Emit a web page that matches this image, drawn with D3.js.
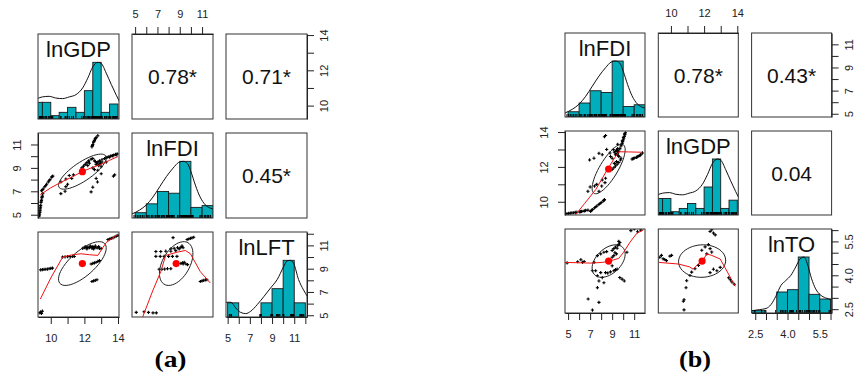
<!DOCTYPE html>
<html>
<head>
<meta charset="utf-8">
<script src="https://cdn.jsdelivr.net/npm/d3@7"></script>
<style>
  body { margin: 0; background: #fff; }
  svg { display: block; font-family: "Liberation Sans", Arial, sans-serif; }
</style>
</head>
<body>
<svg id="chart" width="854" height="378"></svg>
<script>
// ---- values ----
const varNames = ["lnGDP", "lnFDI", "lnLFT", "lnTO"];
const varDomains = [[9.24, 14.06], [4.72, 11.98], [4.85, 12.15], [2.33, 6.05]];
const varMeans = [11.88, 8.68, 9.44, 4.63];
const varSds = [1.42, 1.5, 1.88, 0.72];

// axis ticks (every tick drawn, only some labelled)
const gdpTicks = [10, 11, 12, 13, 14];
const gdpTickLabels = [10, 12, 14];
const fdiTicks = [5, 6, 7, 8, 9, 10, 11];
const fdiTickLabels = [5, 7, 9, 11];
const lftTicks = [5, 6, 7, 8, 9, 10, 11, 12];
const lftTickLabels = [5, 7, 9, 11];
const toTicks = [2.5, 3, 3.5, 4, 4.5, 5, 5.5, 6];
const toTickLabels = [2.5, 4, 5.5];

// histograms
const gdpBreaks = [9.0, 9.5, 10, 10.5, 11, 11.5, 12, 12.5, 13, 13.5, 14];
const gdpCounts = [10, 10, 2, 4, 7, 4, 17, 34, 4, 9];
const fdiBreaks = [5, 6, 7, 8, 9, 10, 11, 12];
const fdiCounts = [3, 8, 15, 14, 32, 6, 7];
const lftBreaks = [5, 6, 7, 8, 9, 10, 11, 12];
const lftCounts = [1, 0, 0, 1, 2, 4, 1];
const toBreaks = [2.0, 2.5, 3.0, 3.5, 4.0, 4.5, 5.0, 5.5, 6.0];
const toCounts = [1, 1, 0, 9, 10, 24, 8, 6];

// density curves (scaled to max 1)
const gdpDensity = [[9.2,0.36],[9.5,0.39],[9.9,0.40],[10.3,0.37],[10.7,0.36],[11.1,0.39],[11.5,0.43],[11.9,0.55],[12.2,0.72],[12.5,0.92],[12.8,1.0],[13.0,0.98],[13.3,0.81],[13.6,0.61],[13.9,0.42],[14.1,0.30]];
const fdiDensity = [[4.7,0.07],[5.4,0.14],[6.0,0.23],[6.6,0.37],[7.2,0.55],[7.8,0.73],[8.4,0.88],[8.9,0.98],[9.3,1.0],[9.7,0.96],[10.0,0.82],[10.4,0.58],[10.8,0.38],[11.3,0.23],[11.8,0.17],[12.1,0.15]];
const lftDensity = [[4.85,0.26],[5.29,0.26],[5.73,0.16],[6.18,0.08],[6.63,0.06],[7.07,0.1],[7.67,0.22],[8.26,0.36],[8.86,0.51],[9.46,0.66],[10.05,0.89],[10.35,0.99],[10.64,1.0],[10.94,0.95],[11.39,0.66],[11.83,0.48],[12.19,0.36]];
const toDensity = [[2.33,0.04],[2.69,0.06],[3.0,0.08],[3.23,0.15],[3.46,0.3],[3.69,0.49],[3.92,0.58],[4.15,0.67],[4.38,0.82],[4.57,0.96],[4.77,1.0],[4.92,0.88],[5.12,0.61],[5.31,0.43],[5.54,0.32],[5.77,0.27],[6.05,0.24]];

// scatter points
const gdpFdiPts = [
  [9.32,4.9],[9.35,5.2],[9.37,5.5],[9.4,5.8],[9.42,6.05],[9.45,6.25],[9.47,6.45],[9.5,6.6],[9.52,6.8],
  [9.33,5.05],[9.36,5.35],[9.39,5.65],[9.43,6.15],[9.48,6.5],
  [9.45,7.05],[9.55,7.2],[9.65,7.4],[9.75,7.6],[9.85,7.8],[9.95,8.0],[10.05,8.2],[10.12,8.3],
  [9.5,7.12],[9.7,7.5],[9.9,7.9],[10.08,8.25],
  [10.6,6.8],[10.6,7.8],[10.85,7.0],[10.9,8.05],[10.9,7.4],[11.0,7.6],[11.1,8.35],[11.25,8.1],[11.35,8.4],
  [12.4,6.95],[12.5,7.35],[12.78,7.8],[12.7,8.1],[13.73,8.3],[12.6,8.85],[12.5,9.0],
  [13.95,10.2],[13.85,10.15],[13.75,10.1],[13.65,10.05],[13.55,10.0],[13.45,9.95],[13.35,9.9],[13.2,9.8],[13.05,9.7],
  [13.9,10.12],[13.7,10.02],[13.5,9.92],[13.28,9.85],
  [12.9,9.6],[12.95,9.4],[12.8,9.5],[12.7,9.3],[12.85,9.2],[13.0,9.1],[12.6,9.6],[12.5,9.8],[12.3,9.4],[12.2,9.2],
  [12.75,9.45],[12.9,9.3],[12.65,9.55],[13.05,9.5],
  [11.85,9.0],[11.95,9.15],[12.05,9.3],[12.15,9.45],[12.25,9.6],[12.4,9.75],
  [12.45,10.8],[12.5,11.0],[12.55,11.2],[12.6,11.35],[12.65,11.5],[12.7,11.6],[12.8,11.75],
  [12.48,10.9],[12.58,11.28],[12.68,11.55],
  [13.8,8.4],[13.0,8.5],[12.8,8.8],[13.3,9.5]
];
const gdpLftPts = [
  [9.35,5.2],[9.4,5.3],[9.45,5.15],[9.5,5.35],
  [9.4,8.9],[9.5,8.92],[9.6,8.94],[9.7,8.95],[9.8,8.97],[9.9,9.0],[10.0,9.02],[10.1,9.05],
  [10.7,10.0],[10.85,10.02],[11.0,10.03],[11.15,10.04],[11.3,10.05],[11.4,10.05],
  [11.9,10.75],[12.0,10.8],[12.1,10.82],[12.2,10.85],[12.3,10.8],[12.4,10.88],[12.5,10.9],[12.6,10.85],[12.7,10.8],[12.8,10.78],[12.9,10.75],[13.0,10.72],[12.15,10.7],[12.45,10.75],
  [12.05,10.9],[12.35,10.95],[12.65,10.95],[12.55,10.7],[12.85,10.9],
  [12.4,9.4],[12.5,9.45],[12.6,9.5],[12.7,9.55],[12.8,9.62],[12.9,9.7],
  [12.45,7.9],[12.55,7.95],[12.65,8.0],[12.75,8.05],
  [13.4,11.5],[13.5,11.55],[13.6,11.6],[13.7,11.65],[13.8,11.72],[13.9,11.8],[14.0,11.86]
];
const fdiLftPts = [
  [5.1,5.25],[5.8,5.3],[6.2,5.25],[6.6,5.2],[6.9,5.2],
  [6.86,10.47],[7.3,10.47],[7.75,10.5],[8.2,10.5],[8.64,10.55],
  [6.86,10.06],[7.25,10.06],[7.6,10.06],[8.0,10.06],[8.35,10.06],[8.75,10.06],
  [7.15,8.95],[7.4,8.95],[7.65,8.97],[7.9,9.0],[8.2,9.0],
  [8.2,10.7],[8.5,10.75],[8.8,10.8],[9.1,10.85],[9.3,10.8],[8.95,10.7],[9.2,10.95],
  [9.1,9.45],[9.25,9.5],[9.4,9.55],[9.55,9.4],[9.7,9.35],[9.3,9.4],
  [9.66,11.5],[9.8,11.55],[9.95,11.6],[10.1,11.65],[10.25,11.7],[8.4,11.67],
  [10.84,7.9],[11.0,7.95],[11.15,8.0],[11.3,8.03],[11.43,8.05]
];
const fdiToPts = [
  [4.91,4.55],[5.87,4.6],[6.16,4.69],[6.31,4.57],[6.46,4.61],
  [7.21,4.2],[7.66,3.98],[7.8,3.75],[8.1,3.9],[8.25,3.67],[7.66,3.45],[6.82,2.95],[7.8,2.8],[7.21,2.46],
  [7.36,4.57],[7.66,4.87],[7.96,4.95],[8.25,5.02],[7.5,4.2],[7.96,4.12],[8.4,4.12],[8.85,4.15],[9.15,4.2],[9.45,4.27],[9.0,4.42],
  [8.6,4.1],[9.3,4.25],[8.5,5.05],
  [9.0,5.1],[9.15,5.18],[9.3,5.25],[9.6,5.36],[9.39,4.95],[9.5,5.33],[9.7,5.45],[9.15,4.87],[9.0,4.8],
  [9.45,5.2],[9.6,5.5],[9.25,5.0],
  [9.69,3.9],[9.9,3.83],[10.1,3.75],[10.34,5.02],
  [10.7,5.98],[11.0,6.05],[11.3,5.93],[11.6,6.0]
];
const gdpToPts = [
  [9.33,4.8],[9.43,4.88],[9.53,4.73],[9.63,4.7],[9.73,4.65],[9.94,4.85],[10.04,4.88],
  [12.36,5.94],[12.46,6.02],[12.56,5.87],[12.67,5.79],
  [11.86,5.11],[12.06,5.26],[12.26,5.36],[12.36,5.18],[12.46,5.03],[12.16,4.95],
  [12.36,4.12],[12.56,4.27],[12.77,4.2],[12.97,4.35],
  [13.48,3.89],[13.58,3.8],[13.68,3.7],[13.82,3.6],
  [11.15,3.99],[10.95,3.76],[10.91,3.45],[10.79,2.92],[10.75,2.85],[10.79,2.47],
  [11.25,4.14],[11.45,4.29],[11.66,4.44]
];

// lowess smooths (x, y)
const lowessGdpFdi = [[9.38,6.71],[10.0,7.3],[10.61,7.77],[11.3,8.25],[11.91,8.71],[12.5,9.05],[13.0,9.3],[13.5,9.65],[14.0,9.97]];
const lowessFdiGdp = [[5.56,9.16],[6.5,9.9],[7.5,10.69],[8.55,11.83],[9.3,12.59],[9.6,12.87],[10.5,12.86],[11.69,12.84]];
const lowessGdpLft = [[9.38,6.39],[10.0,8.2],[10.71,10.0],[11.3,10.2],[11.8,10.28],[12.3,10.2],[12.8,10.14],[13.3,11.25],[14.0,11.94]];
const lowessFdiLft = [[5.68,4.86],[6.57,7.08],[7.3,8.75],[7.74,10.14],[8.78,10.42],[9.51,10.56],[9.96,10.28],[10.84,8.75],[11.73,7.78]];
const lowessFdiTo = [[4.73,4.57],[7.06,4.54],[8.1,4.57],[8.7,4.62],[9.6,4.75],[10.04,5.02],[10.64,5.48],[11.24,5.86],[11.83,6.01]];
const lowessGdpTo = [[9.29,4.57],[10.44,4.5],[11.1,4.38],[11.34,4.27],[11.64,4.5],[11.86,4.57],[12.16,4.95],[12.46,4.88],[12.97,4.72],[13.37,4.19],[13.88,3.51]];

// correlations for pairs (0,1), (0,2), (1,2)
const corrA = [0.78, 0.71, 0.45];
const starsA = ["*", "*", "*"];
const corrB = [0.78, 0.43, 0.04];
const starsB = ["*", "*", ""];

// ---- build variable table ----
const fmtInt = d3.format("d"), fmt1 = d3.format(".1f");
const vars = {};
[
  [gdpTicks, gdpTickLabels, gdpBreaks, gdpCounts, gdpDensity, fmtInt],
  [fdiTicks, fdiTickLabels, fdiBreaks, fdiCounts, fdiDensity, fmtInt],
  [lftTicks, lftTickLabels, lftBreaks, lftCounts, lftDensity, fmtInt],
  [toTicks, toTickLabels, toBreaks, toCounts, toDensity, fmt1]
].forEach((a, k) => {
  vars[varNames[k]] = { name: varNames[k], domain: varDomains[k], mean: varMeans[k], sd: varSds[k],
    ticks: a[0], shown: a[1], breaks: a[2], counts: a[3], density: a[4], fmt: a[5] };
});
const pairs = [["lnGDP","lnFDI",gdpFdiPts],["lnGDP","lnLFT",gdpLftPts],["lnFDI","lnLFT",fdiLftPts],["lnFDI","lnTO",fdiToPts],["lnGDP","lnTO",gdpToPts]];
vars.lnGDP.rug = gdpFdiPts.map(d => d[0]);
vars.lnFDI.rug = gdpFdiPts.map(d => d[1]);
vars.lnLFT.rug = gdpLftPts.map(d => d[1]);
vars.lnTO.rug = fdiToPts.map(d => d[1]);

function pointsFor(xn, yn) {
  const p = pairs.find(e => (e[0] === xn && e[1] === yn) || (e[0] === yn && e[1] === xn));
  return p[0] === xn ? p[2] : p[2].map(d => [d[1], d[0]]);
}

const svg = d3.select("#chart");
const defs = svg.append("defs");
const histFill = "#00adbb";
let clipN = 0;

function drawFigure(f) {
  const g = svg.append("g");
  const v = f.vars.map(n => vars[n]);
  const cx = j => f.x0 + j * f.dx, cy = i => f.y0 + i * f.dy;
  const xs = (vr, j) => d3.scaleLinear().domain(vr.domain).range([cx(j), cx(j) + f.w]);
  const ys = (vr, i) => d3.scaleLinear().domain(vr.domain).range([cy(i) + f.h, cy(i)]);
  const corrIdx = (a, b) => (a === 0 ? b - 1 : 2);

  for (let i = 0; i < 3; i++) for (let j = 0; j < 3; j++) {
    const x0 = cx(j), y0 = cy(i);
    const id = "clip" + (clipN++);
    defs.append("clipPath").attr("id", id).append("rect")
      .attr("x", x0).attr("y", y0).attr("width", f.w).attr("height", f.h);
    const cell = g.append("g").attr("clip-path", `url(#${id})`);

    if (i === j) {
      const vr = v[i], x = xs(vr, j);
      const y = d3.scaleLinear().domain([0, 1.5]).range([y0 + f.h, y0]);
      const maxC = d3.max(vr.counts);
      cell.selectAll("rect").data(vr.counts).join("rect")
        .attr("x", (c, k) => x(vr.breaks[k]))
        .attr("width", (c, k) => x(vr.breaks[k + 1]) - x(vr.breaks[k]))
        .attr("y", c => y(c / maxC))
        .attr("height", c => y(0) - y(c / maxC))
        .attr("fill", histFill).attr("stroke", "#1a1a1a").attr("stroke-width", 0.9);
      cell.append("path").datum(vr.density)
        .attr("d", d3.line().x(d => x(d[0])).y(d => y(d[1])).curve(d3.curveMonotoneX))
        .attr("fill", "none").attr("stroke", "#111").attr("stroke-width", 1);
      cell.selectAll("line.rug").data(vr.rug).join("line").attr("class", "rug")
        .attr("x1", d => x(d)).attr("x2", d => x(d))
        .attr("y1", y0 + f.h).attr("y2", y0 + f.h - 3)
        .attr("stroke", "#000").attr("stroke-width", 1);
      cell.append("text").attr("x", x0 + f.w / 2).attr("y", y0 + 23)
        .attr("text-anchor", "middle").attr("font-size", 22).attr("fill", "#111")
        .text(vr.name);
    } else if (i > j) {
      const xv = v[j], yv = v[i];
      const x = xs(xv, j), y = ys(yv, i);
      const pts = pointsFor(xv.name, yv.name);
      cell.append("path")
        .attr("d", pts.map(d => `M${x(d[0]) - 1.6},${y(d[1])}h3.2M${x(d[0])},${y(d[1]) - 1.6}v3.2`).join(""))
        .attr("stroke", "#000").attr("stroke-width", 1.1);
      // correlation ellipse (1 sd)
      const r = f.corr[corrIdx(j, i)];
      const th = 1 / Math.SQRT2, a = Math.sqrt(1 + r), b = Math.sqrt(1 - r);
      const ell = d3.range(52).map(k => {
        const t = k * 2 * Math.PI / 51;
        const ex = Math.cos(t) * a * th - Math.sin(t) * b * th;
        const ey = Math.cos(t) * a * th + Math.sin(t) * b * th;
        return [xv.mean + ex * xv.sd, yv.mean + ey * yv.sd];
      });
      cell.append("path").datum(ell)
        .attr("d", d3.line().x(d => x(d[0])).y(d => y(d[1])))
        .attr("fill", "none").attr("stroke", "#222").attr("stroke-width", 1);
      cell.append("path").datum(f.lowess[`${i}${j}`])
        .attr("d", d3.line().x(d => x(d[0])).y(d => y(d[1])))
        .attr("fill", "none").attr("stroke", "#ee1111").attr("stroke-width", 1);
      cell.append("circle").attr("cx", x(xv.mean)).attr("cy", y(yv.mean)).attr("r", 3.6)
        .attr("fill", "#ff0000");
    } else {
      const k = corrIdx(i, j);
      cell.append("text").attr("x", x0 + f.w / 2).attr("y", y0 + f.h / 2).attr("dy", "0.36em")
        .attr("text-anchor", "middle").attr("font-size", 21).attr("fill", "#111")
        .text(d3.format(".2f")(f.corr[k]) + f.stars[k]);
    }
    g.append("rect").attr("x", x0).attr("y", y0).attr("width", f.w).attr("height", f.h)
      .attr("fill", "none").attr("stroke", "#333").attr("stroke-width", 1);
  }

  // axes: bottom for even columns, top for odd; right for even rows, left for odd
  const axisStyle = (sel) => sel.attr("font-size", 11).attr("font-family", null).attr("color", "#222");
  const mk = (fn, scale, vr) => fn(scale).tickValues(vr.ticks).tickSizeInner(7).tickSizeOuter(0)
    .tickFormat(d => vr.shown.includes(d) ? vr.fmt(d) : "");
  for (let j = 0; j < 3; j++) {
    const vr = v[j], x = xs(vr, j);
    if (j % 2 === 0) {
      g.append("g").attr("transform", `translate(0,${cy(2) + f.h})`)
        .call(mk(d3.axisBottom, x, vr).tickPadding(10)).call(axisStyle);
    } else {
      g.append("g").attr("transform", `translate(0,${cy(0)})`)
        .call(mk(d3.axisTop, x, vr).tickPadding(9)).call(axisStyle);
    }
  }
  for (let i = 0; i < 3; i++) {
    const vr = v[i], y = ys(vr, i);
    if (i % 2 === 0) {
      const ax = g.append("g").attr("transform", `translate(${cx(2) + f.w},0)`)
        .call(mk(d3.axisRight, y, vr)).call(axisStyle);
      ax.selectAll(".tick text").attr("x", 0).attr("dy", 0).attr("text-anchor", "middle")
        .attr("transform", "translate(21,0) rotate(-90)");
    } else {
      const ax = g.append("g").attr("transform", `translate(${cx(0)},0)`)
        .call(mk(d3.axisLeft, y, vr)).call(axisStyle);
      ax.selectAll(".tick text").attr("x", 0).attr("dy", 0).attr("text-anchor", "middle")
        .attr("transform", "translate(-17,0) rotate(-90)");
    }
  }

  svg.append("text").attr("x", f.labelX).attr("y", 366.5).attr("text-anchor", "middle")
    .attr("font-family", "'Liberation Serif', 'Times New Roman', serif")
    .attr("font-weight", "bold").attr("font-size", 23).attr("fill", "#000")
    .attr("textLength", 32).attr("lengthAdjust", "spacingAndGlyphs")
    .text(f.label);
}

drawFigure({
  x0: 38, y0: 34, w: 81, h: 85, dx: 94, dy: 99,
  vars: ["lnGDP", "lnFDI", "lnLFT"], corr: corrA, stars: starsA,
  lowess: { "10": lowessGdpFdi, "20": lowessGdpLft, "21": lowessFdiLft },
  label: "(a)", labelX: 170.5
});
drawFigure({
  x0: 565, y0: 33, w: 80, h: 84, dx: 93.3, dy: 98,
  vars: ["lnFDI", "lnGDP", "lnTO"], corr: corrB, stars: starsB,
  lowess: { "10": lowessFdiGdp, "20": lowessFdiTo, "21": lowessGdpTo },
  label: "(b)", labelX: 695
});
</script>
</body>
</html>
